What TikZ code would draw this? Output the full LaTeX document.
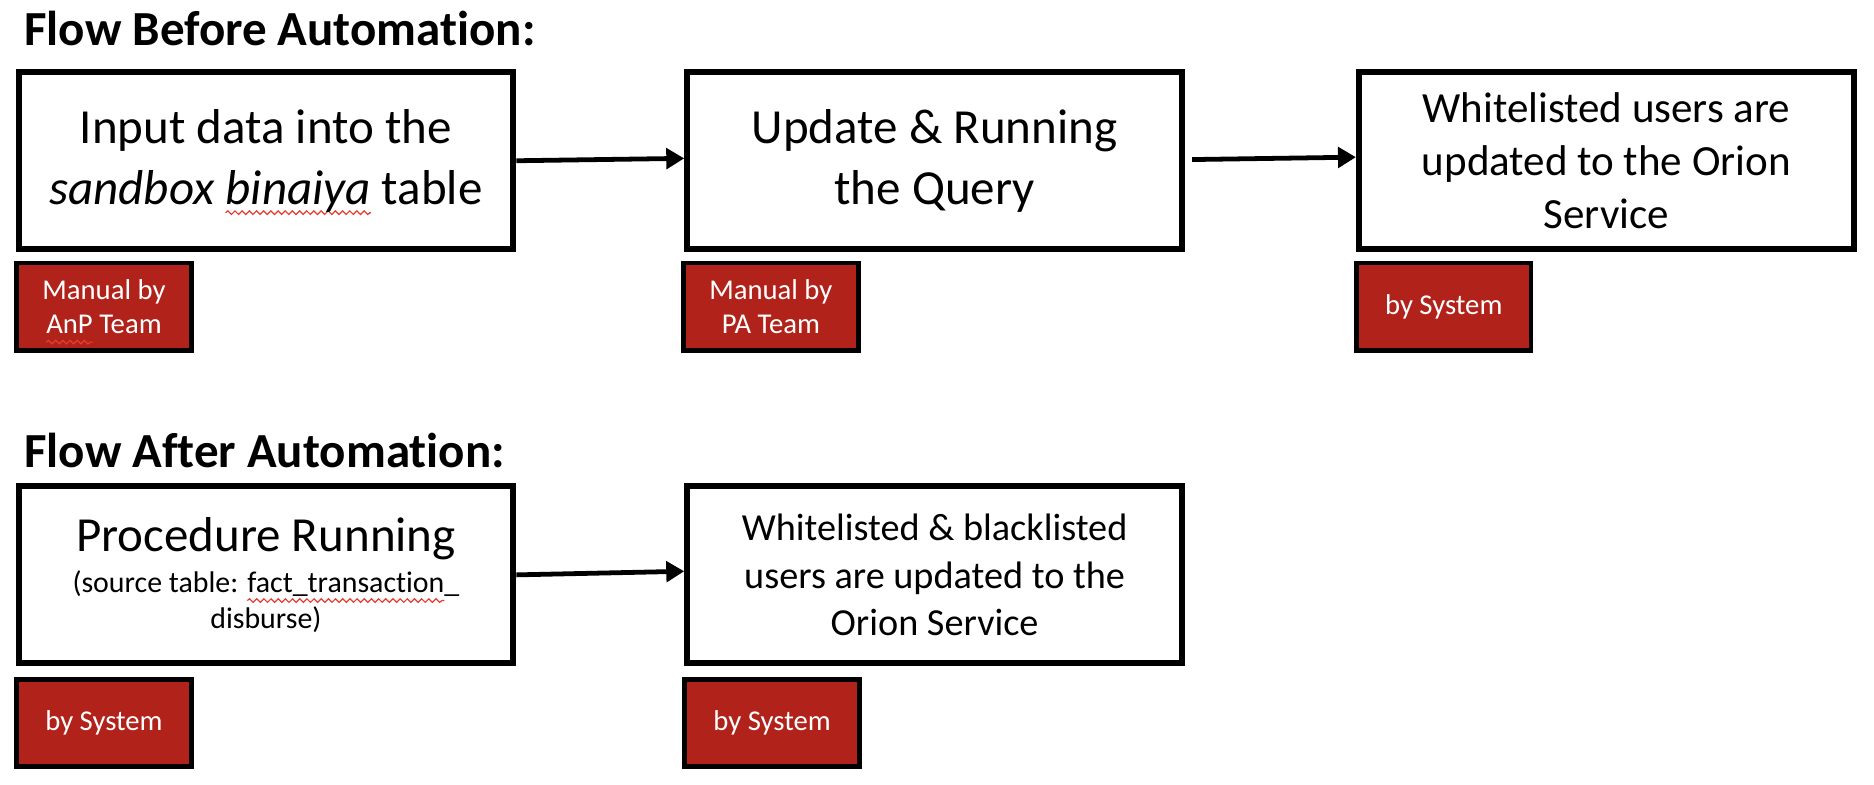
\documentclass[tikz,border=0pt]{standalone}
\usepackage{fontspec}
\setmainfont{Carlito}[Ligatures=NoCommon,RawFeature={-clig;-calt}]
\usetikzlibrary{arrows.meta,decorations.pathmorphing}
\definecolor{tagred}{RGB}{176,34,26}
\definecolor{spellred}{RGB}{230,60,50}
\newdimen\wavew
\newcommand\spellwave[1]{\setbox0=\hbox{#1}\wavew=\wd0\relax\rlap{\tikz[baseline=0pt,x=1pt,y=1pt]{\path (0,0); \draw[overlay,spellred,line width=1pt,decorate,decoration={snake,amplitude=1.5pt,segment length=6pt}] (0,-7) -- (\wavew,-7);}}#1}
\begin{document}
\begin{tikzpicture}[x=1pt,y=-1pt,
  box/.style={draw=black,line width=5pt,fill=white,minimum width=414pt,minimum height=148pt,align=center,inner sep=0pt},
  tag/.style={draw=black,line width=4pt,fill=tagred,text=white,minimum width=146pt,minimum height=73pt,align=center,inner sep=0pt,font=\fontsize{24}{29}\selectfont},
  ttl/.style={anchor=base west,inner sep=0pt,font=\fontsize{41}{48}\selectfont\bfseries},
  flow/.style={line width=4pt,-{Triangle[length=15pt,width=17pt]}}
]
\useasboundingbox (0,0) rectangle (1568,656);

\node[ttl] (t1) at (20,38) {Flow Before Automation:};
\node[ttl] (t2) at (20,391) {Flow After Automation:};

\node[box,font=\fontsize{41}{51}\selectfont] (b1) at (222.5,134.5) {Input data into the\\\textit{sandbox \spellwave{binaiya}} table};
\node[box,font=\fontsize{41}{51}\selectfont] (b2) at (782,134.5) {Update \& Running\\the Query};
\node[box,font=\fontsize{36}{44}\selectfont] (b3) at (1344,134.5) {Whitelisted users are\\updated to the Orion\\Service};

\node[tag] (g1) at (87,256.5) {Manual by\\\spellwave{AnP} Team};
\node[tag] (g2) at (645,256.5) {Manual by\\PA Team};
\node[tag] (g3) at (1208,256.5) {by System};

\node[box,font=\fontsize{25}{30}\selectfont] (b4) at (222.5,481) {{\fontsize{41}{44}\selectfont Procedure Running}\\[4pt](source table: \spellwave{fact\_transaction}\_\\disburse)};
\node[box,font=\fontsize{32}{40}\selectfont] (b5) at (782,481) {Whitelisted \& blacklisted\\users are updated to the\\Orion Service};

\node[tag] (g4) at (87,605) {by System};
\node[tag] (g5) at (646,605) {by System};

\draw[flow] (b1.east) -- ([yshift=2pt]b2.west);
\draw[flow] ([xshift=6pt,yshift=1pt]b2.east) -- ([yshift=3pt]b3.west);
\draw[flow] (b4.east) -- ([yshift=3pt]b5.west);
\end{tikzpicture}
\end{document}
